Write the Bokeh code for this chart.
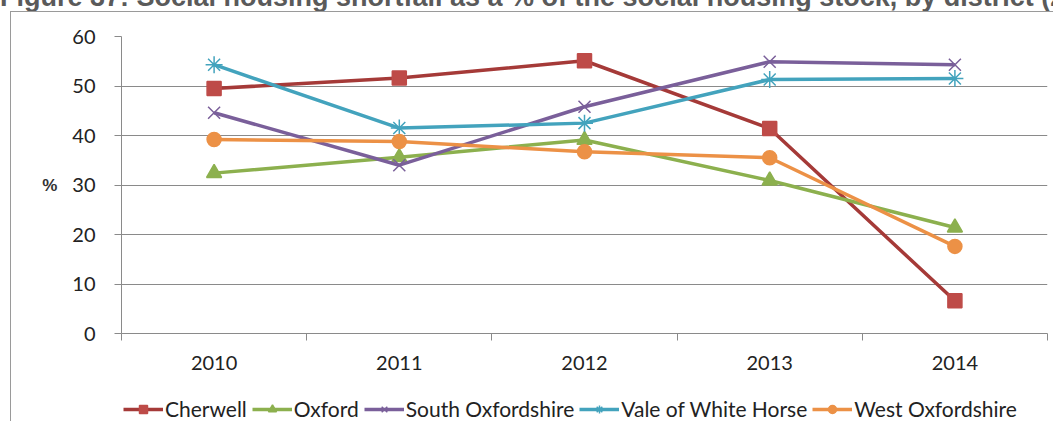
from bokeh.plotting import figure
from bokeh.models import FixedTicker, Legend, LegendItem, Range1d, Div
from bokeh.layouts import column
from bokeh.embed import file_html
from bokeh.resources import INLINE

# Social housing shortfall as % of stock, by district
years = ["2010", "2011", "2012", "2013", "2014"]
cherwell = [49.5, 51.6, 55.1, 41.4, 6.6]
oxford = [32.4, 35.6, 39.1, 30.9, 21.4]
south_oxon = [44.6, 34.0, 45.8, 54.9, 54.3]
vale_wh = [54.3, 41.5, 42.5, 51.3, 51.5]
west_oxon = [39.2, 38.8, 36.7, 35.5, 17.6]

caption = ("Figure 37: Social housing shortfall as a % of the social housing "
           "stock, by district (2010-2014)")

x = list(range(1, len(years) + 1))

grey = "#8a8a8a"
tick_font = "Lato"
box_edge = {"border-left": "1px solid #9a9a9a", "box-sizing": "border-box"}

p = figure(width=1043, height=371, output_backend="svg", toolbar_location=None,
           x_range=Range1d(0.5, 5.5), y_range=Range1d(0, 60),
           frame_width=925, frame_height=296,
           min_border_left=110, min_border_right=8, min_border_top=24,
           min_border_bottom=0, margin=(0, 0, 0, 10))
p.outline_line_color = None
p.background_fill_color = "white"
p.border_fill_color = "white"
p.styles = dict(box_edge, **{"border-top": "1px solid #9a9a9a"})

# y axis
p.yaxis.ticker = FixedTicker(ticks=[0, 10, 20, 30, 40, 50, 60])
p.yaxis.axis_line_color = grey
p.yaxis.major_tick_line_color = grey
p.yaxis.major_tick_out = 7
p.yaxis.major_tick_in = 0
p.yaxis.minor_tick_line_color = None
p.yaxis.major_label_standoff = 19
p.yaxis.major_label_text_font = tick_font
p.yaxis.major_label_text_font_size = "20px"
p.yaxis.major_label_text_color = "#222222"
p.yaxis.axis_label = "%"
p.yaxis.axis_label_orientation = "horizontal"
p.yaxis.axis_label_text_font = "Liberation Sans"
p.yaxis.axis_label_text_font_style = "bold"
p.yaxis.axis_label_text_font_size = "17px"
p.yaxis.axis_label_text_color = "#333333"
p.yaxis.axis_label_standoff = 12

# x axis: labels at category centres, ticks at category boundaries
p.xaxis.ticker = FixedTicker(ticks=x, minor_ticks=[0.5, 1.5, 2.5, 3.5, 4.5, 5.5])
p.xaxis.major_label_overrides = {i: y for i, y in zip(x, years)}
p.xaxis.axis_line_color = grey
p.xaxis.major_tick_line_color = None
p.xaxis.major_tick_out = 0
p.xaxis.major_tick_in = 0
p.xaxis.minor_tick_line_color = grey
p.xaxis.minor_tick_out = 7
p.xaxis.minor_tick_in = 0
p.xaxis.major_label_standoff = 15
p.xaxis.major_label_text_font = tick_font
p.xaxis.major_label_text_font_size = "20px"
p.xaxis.major_label_text_color = "#222222"

p.xgrid.grid_line_color = None
p.ygrid.grid_line_color = grey
p.ygrid.grid_line_width = 1

series = [
    ("Cherwell", cherwell, "#A53A38", "#BE4B48", "square", 14),
    ("Oxford", oxford, "#8CB04E", "#8CB04E", "triangle", 15),
    ("South Oxfordshire", south_oxon, "#7A5F9A", "#7A5F9A", "x", 17),
    ("Vale of White Horse", vale_wh, "#43A3BD", "#43A3BD", "asterisk", 17),
    ("West Oxfordshire", west_oxon, "#EC9146", "#EC9146", "circle", 14),
]

# legend strip under the chart; its key glyphs sit outside the strip's ranges
lg = figure(width=1043, height=50, output_backend="svg", toolbar_location=None,
            x_range=Range1d(0, 1), y_range=Range1d(0, 1),
            x_axis_location=None, y_axis_location=None,
            min_border_left=110, min_border_right=8, min_border_top=0,
            min_border_bottom=0, margin=(0, 0, 0, 10))
lg.outline_line_color = None
lg.xgrid.grid_line_color = None
lg.ygrid.grid_line_color = None
lg.styles = box_edge

items = []
for name, vals, lc, mc, marker, size in series:
    p.line(x, vals, line_color=lc, line_width=3.5)
    p.scatter(x, vals, marker=marker, size=size, fill_color=mc,
              line_color=mc, line_width=1.5)
    key_line = lg.line([-5, -4], [-5, -5], line_color=lc, line_width=3.5)
    key_mark = lg.scatter([-5], [-5], marker=marker, size=size - 2, fill_color=mc,
                          line_color=mc, line_width=1.5)
    items.append(LegendItem(label=name, renderers=[key_line, key_mark]))

legend = Legend(items=items, orientation="horizontal", location=(2, 0),
                label_text_font=tick_font, label_text_font_size="21px",
                label_text_color="#222222", glyph_width=40, glyph_height=20,
                spacing=5, label_standoff=2, padding=0, margin=0,
                border_line_color=None, background_fill_alpha=0)
lg.add_layout(legend)

# caption line, partly above the page edge
title = Div(text=f'<div style="position:relative; top:-16px; white-space:nowrap; '
                 f'font-family:\'Liberation Sans\'; font-weight:bold; font-size:27px; '
                 f'line-height:27px; color:#5a5a5a;">{caption}</div>',
            width=1053, height=11, margin=0, styles={"overflow": "hidden"})

layout = column(title, p, lg, width=1053, spacing=0)

open("out.html", "w").write(file_html(layout, INLINE))
